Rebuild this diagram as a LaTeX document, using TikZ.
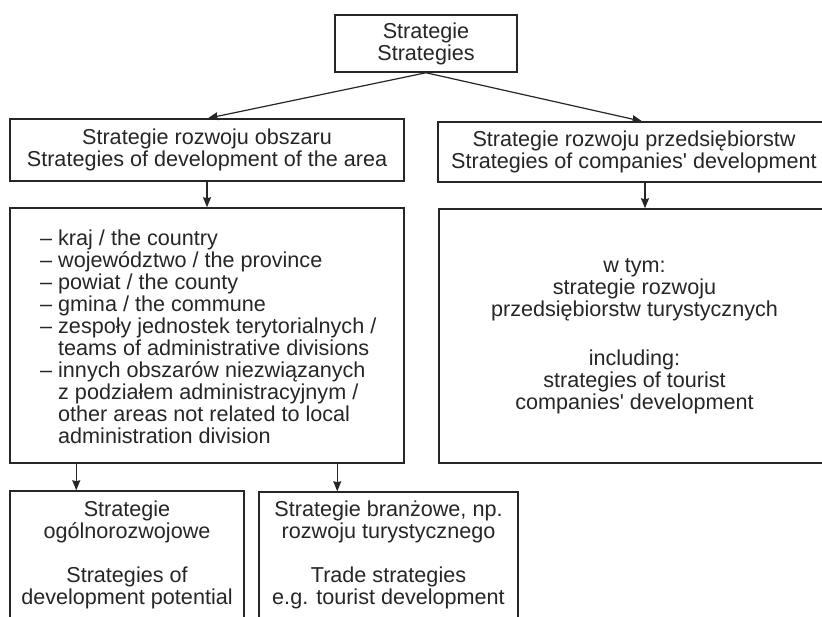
\documentclass[tikz,border=0pt]{standalone}
\usepackage{fontspec}
\setmainfont{Liberation Sans}
\usetikzlibrary{arrows.meta,calc}
\definecolor{ink}{HTML}{262626}
\newcommand{\sq}{\textquotesingle}
\begin{document}
\begin{tikzpicture}[x=1pt,y=-1pt,
  txt/.style={text=ink, inner sep=0pt, font=\fontsize{21.6}{22}\selectfont},
  box/.style={txt, draw=ink, line width=1.5pt, rectangle, align=center},
  arr/.style={draw=ink, line width=1.2pt, -{Stealth[length=10pt,width=8pt,inset=1pt]}}]
\useasboundingbox (0,0) rectangle (822,616);
\clip (0,0) rectangle (822,616);
\fill[white] (0,0) rectangle (822,616);

% top level
\node[box, minimum width=182, minimum height=57] (top) at (426,43.5) {Strategie\\Strategies};

% second level
\node[box, minimum width=394, minimum height=62] (area) at (207,150)
  {Strategie rozwoju obszaru\\Strategies of development of the area};
\node[box, minimum width=392, minimum height=60] (comp) at (634,152)
  {Strategie rozwoju przedsiębiorstw\\Strategies of companies\sq{} development};

% third level
\node[box, minimum width=394, minimum height=255] (list) at (207,335.5) {};
\node[txt, anchor=west, align=left] (listtext) at (40,337)
  {– kraj / the country\\
   – województwo / the province\\
   – powiat / the county\\
   – gmina / the commune\\
   – zespoły jednostek terytorialnych /\\
   \phantom{– }teams of administrative divisions\\
   – innych obszarów niezwiązanych\\
   \phantom{– }z podziałem administracyjnym /\\
   \phantom{– }other areas not related to local\\
   \phantom{– }administration division};
\node[box, minimum width=391, minimum height=254] (incl) at (634.5,336)
  {w tym:\\strategie rozwoju\\przedsiębiorstw turystycznych\\[27pt]including:\\strategies of tourist\\companies\sq{} development};

% bottom level
\node[box, minimum width=234, minimum height=128] (gen) at (127,555)
  {Strategie\\ogólnorozwojowe\\[22pt]Strategies of\\development potential};
\node[box, minimum width=259, minimum height=126] (trade) at (388.5,555)
  {Strategie branżowe, np.\\rozwoju turystycznego\\[22pt]Trade strategies\\e.g. tourist development};

% connectors
\draw[arr] (top.south) -- ($(area.north)+(1,0)$);
\draw[arr] (top.south) -- ($(comp.north)+(8,0)$);
\draw[arr] (area.south) -- (list.north);
\draw[arr] ($(comp.south)+(11,0)$) -- ($(incl.north)+(10.5,0)$);
\draw[arr] ($(list.south west)+(67,0)$) -- ($(gen.north west)+(67,0)$);
\draw[arr] ($(list.south west)+(328,0)$) -- ($(trade.north west)+(79,0)$);
\end{tikzpicture}
\end{document}
